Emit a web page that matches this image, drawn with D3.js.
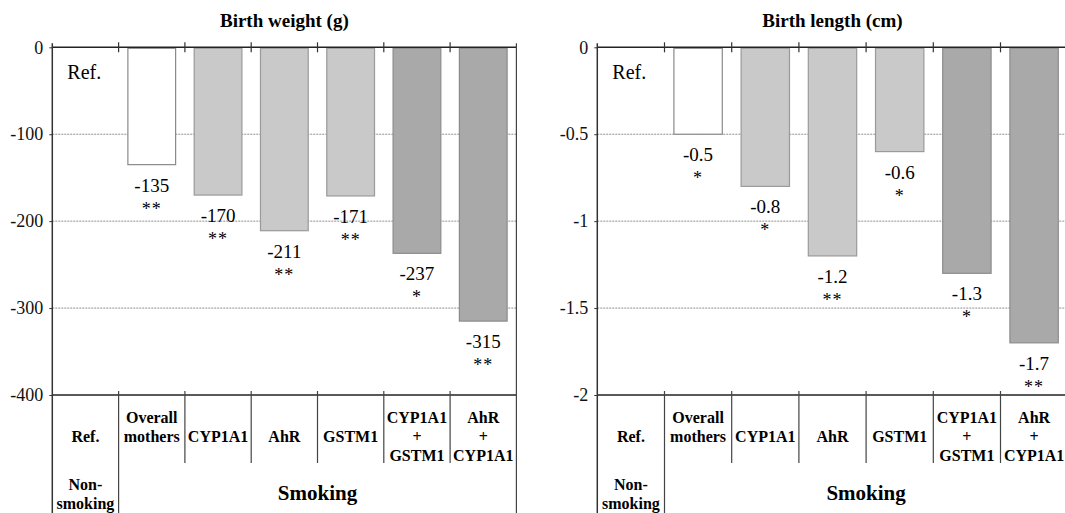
<!DOCTYPE html>
<html>
<head>
<meta charset="utf-8">
<script src="https://cdn.jsdelivr.net/npm/d3@7"></script>
<style>
  html, body { margin: 0; padding: 0; background: #fff; }
  svg { display: block; }
  svg text { font-family: "Liberation Serif", "Times New Roman", serif; }
</style>
</head>
<body>
<svg id="chart" width="1065" height="513"></svg>
<script>
// ---------- data ----------
const categories = ["Ref.", "Overall mothers", "CYP1A1", "AhR", "GSTM1", "CYP1A1 + GSTM1", "AhR + CYP1A1"];
const categoryLines = [["Ref."], ["Overall", "mothers"], ["CYP1A1"], ["AhR"], ["GSTM1"], ["CYP1A1", "+", "GSTM1"], ["AhR", "+", "CYP1A1"]];
const barTone = ["none", "white", "light", "light", "light", "dark", "dark"];
const groupLabels = [["Non-", "smoking"], ["Smoking"]];

const weightValues = [null, -135, -170, -211, -171, -237, -315];
const weightStars = ["", "**", "**", "**", "**", "*", "**"];
const weightTicks = [0, -100, -200, -300, -400];

const lengthValues = [null, -0.5, -0.8, -1.2, -0.6, -1.3, -1.7];
const lengthStars = ["", "*", "*", "**", "*", "*", "**"];
const lengthTicks = [0, -0.5, -1, -1.5, -2];

const titles = ["Birth weight (g)", "Birth length (cm)"];

// ---------- drawing ----------
const svg = d3.select("#chart");
const yTop = 47.3, yBottom = 395, row1Bottom = 463, pageBottom = 513;
const tones = { white: "#ffffff", light: "#c9c9c9", dark: "#a9a9a9" };
const strokes = { white: "#8a8a8a", light: "#9a9a9a", dark: "#8c8c8c" };

function drawPanel(opts) {
  const g = svg.append("g");
  const x0 = opts.x0, x1 = opts.x0 + opts.colW * categories.length;

  const col = d3.scaleBand().domain(categories).range([x0, x1]).padding(0);
  const bar = d3.scaleBand().domain(categories).range([x0, x1]).paddingInner(0.28).paddingOuter(0.14);
  const y = d3.scaleLinear().domain([d3.min(opts.ticks), 0]).range([yBottom, yTop]);

  // title
  g.append("text").attr("x", (x0 + x1) / 2).attr("y", 27)
    .attr("text-anchor", "middle")
    .attr("font-weight", "bold").attr("font-size", 19).text(opts.title);

  // gridlines
  g.selectAll("line.grid").data(opts.ticks.filter(t => t !== 0 && t !== d3.min(opts.ticks)))
    .enter().append("line").attr("class", "grid")
    .attr("x1", x0).attr("x2", x1)
    .attr("y1", d => y(d)).attr("y2", d => y(d))
    .attr("stroke", "#8f8f8f").attr("stroke-width", 1).attr("stroke-dasharray", "2,1");

  // bars
  const data = categories.map((c, i) => ({ c, v: opts.values[i], s: opts.stars[i], tone: barTone[i] }));
  const bars = data.filter(d => d.v !== null);
  g.selectAll("rect.bar").data(bars).enter().append("rect").attr("class", "bar")
    .attr("x", d => bar(d.c)).attr("width", bar.bandwidth())
    .attr("y", y(0) + 1).attr("height", d => y(d.v) - y(0) - 1)
    .attr("fill", d => tones[d.tone]).attr("stroke", d => strokes[d.tone]).attr("stroke-width", 1.2);

  // value labels
  g.selectAll("text.val").data(bars).enter().append("text").attr("class", "val")
    .attr("x", d => bar(d.c) + bar.bandwidth() / 2).attr("y", d => y(d.v) + 27)
    .attr("text-anchor", "middle").attr("font-size", 19)
    .text(d => d.v);
  g.selectAll("text.star").data(bars).enter().append("text").attr("class", "star")
    .attr("x", d => bar(d.c) + bar.bandwidth() / 2).attr("y", d => y(d.v) + 50)
    .attr("text-anchor", "middle").attr("font-size", 18)
    .attr("letter-spacing", 1)
    .text(d => d.s);

  // Ref. label in plot
  g.append("text").attr("x", x0 + 15).attr("y", 79)
    .attr("font-size", 20).text("Ref.");

  // frame lines
  g.append("line").attr("x1", x0).attr("x2", x1).attr("y1", y(0)).attr("y2", y(0))
    .attr("stroke", "#222").attr("stroke-width", 1.5);
  g.append("line").attr("x1", x0).attr("x2", x1).attr("y1", yBottom).attr("y2", yBottom)
    .attr("stroke", "#222").attr("stroke-width", 1.5);
  g.append("line").attr("x1", x0).attr("x2", x0).attr("y1", y(0) - 4).attr("y2", pageBottom)
    .attr("stroke", "#333").attr("stroke-width", 1.5);
  g.append("line").attr("x1", x1).attr("x2", x1).attr("y1", y(0) - 4).attr("y2", pageBottom)
    .attr("stroke", "#444").attr("stroke-width", 1.2);

  // column dividers: top ticks and category table
  const inner = categories.slice(1);
  g.selectAll("line.toptick").data(inner).enter().append("line")
    .attr("x1", d => col(d)).attr("x2", d => col(d))
    .attr("y1", y(0) - 5).attr("y2", y(0) + 5)
    .attr("stroke", "#333").attr("stroke-width", 1.2);
  g.selectAll("line.div").data(inner).enter().append("line")
    .attr("x1", d => col(d)).attr("x2", d => col(d))
    .attr("y1", yBottom - 4).attr("y2", (d, i) => i === 0 ? pageBottom : row1Bottom)
    .attr("stroke", "#444").attr("stroke-width", 1.2);

  // y axis
  const axis = d3.axisLeft(y).tickValues(opts.ticks).tickSize(3).tickPadding(6)
    .tickFormat(d => String(d));
  const ax = g.append("g").attr("transform", `translate(${x0},0)`).call(axis);
  ax.select(".domain").remove();
  ax.attr("font-family", null);
  ax.selectAll(".tick line").attr("stroke", "#333");
  ax.selectAll(".tick text").attr("font-size", 18).attr("fill", "#111");

  // category labels
  const lh = 19;
  categories.forEach((c, i) => {
    const lines = categoryLines[i];
    const start = lines.length === 1 ? 1 : 0;
    const t = g.append("text").attr("text-anchor", "middle")
      .attr("font-weight", "bold").attr("font-size", 16);
    lines.forEach((ln, k) => {
      t.append("tspan").attr("x", col(c) + col.bandwidth() / 2)
        .attr("y", 423 + (start + k) * lh).text(ln);
    });
  });

  // group labels
  const ng = g.append("text").attr("text-anchor", "middle")
    .attr("font-weight", "bold").attr("font-size", 16);
  groupLabels[0].forEach((ln, k) => {
    ng.append("tspan").attr("x", col(categories[0]) + col.bandwidth() / 2)
      .attr("y", 490 + k * lh).text(ln);
  });
  g.append("text").attr("x", (col(categories[1]) + x1) / 2).attr("y", 500)
    .attr("text-anchor", "middle")
    .attr("font-weight", "bold").attr("font-size", 21).text(groupLabels[1][0]);
}

drawPanel({ x0: 52.3, colW: 66.3, title: titles[0], values: weightValues, stars: weightStars, ticks: weightTicks });
drawPanel({ x0: 597.3, colW: 67.2, title: titles[1], values: lengthValues, stars: lengthStars, ticks: lengthTicks });
</script>
</body>
</html>
